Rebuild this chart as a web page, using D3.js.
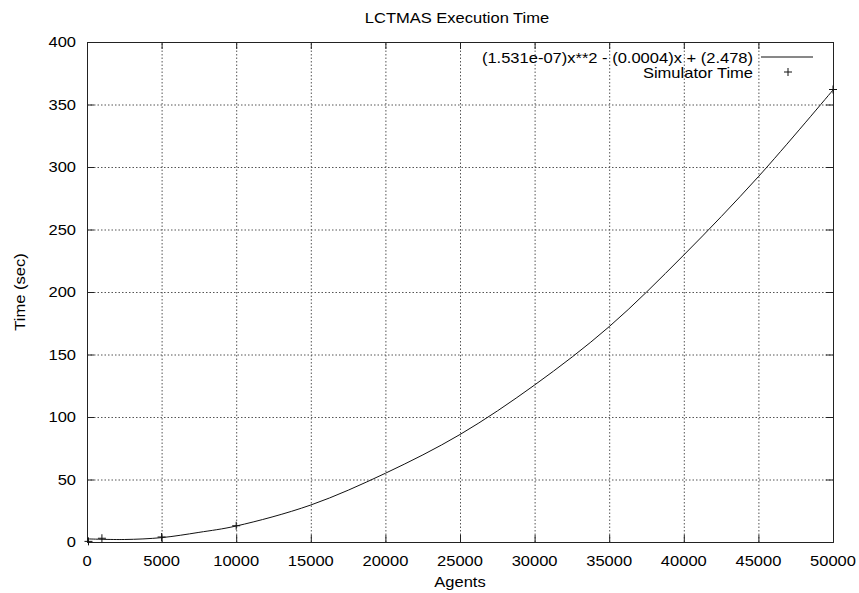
<!DOCTYPE html>
<html>
<head>
<meta charset="utf-8">
<script src="https://cdn.jsdelivr.net/npm/d3@7"></script>
<style>
body{margin:0;background:#fff;}
text{font-family:"Liberation Sans",Arial,Helvetica,sans-serif;font-size:14px;fill:#000;}
</style>
</head>
<body>
<div id="chart"></div>
<script>
// values
var agentTicks = [0,5000,10000,15000,20000,25000,30000,35000,40000,45000,50000];
var timeTicks = [0,50,100,150,200,250,300,350,400];

var fitAgents = [0,2500,5000,7500,10000,15000,20000,25000,30000,35000,40000,45000,50000];
var fitTime = [2.5,2.0,3.5,7.7,12.8,29.6,55,86,125.6,172.3,229.6,292.3,361.6];

var simAgents = [100,1000,5000,10000,50000];
var simTime = [0.5,3,4,13,362];

var fitLabel = "(1.531e-07)x**2 - (0.0004)x + (2.478)";
var simLabel = "Simulator Time";

drawChart();

function drawChart(){
	var W = 859, H = 593;
	var plotL = 87, plotR = 833, plotT = 42, plotB = 542;
	var SX = 1.18; // the png font is wide

	var svg = d3.select("#chart").append("svg")
		.attr("width", W)
		.attr("height", H);

	var x = d3.scaleLinear().domain([0,50000]).range([plotL,plotR]);
	var y = d3.scaleLinear().domain([0,400]).range([plotB,plotT]);

	function label(g, tx, ty, str, anchor, rot){
		return g.append("text")
			.attr("transform", "translate(" + tx + "," + ty + ")" + (rot ? " rotate(" + rot + ")" : "") + " scale(" + SX + ",1)")
			.attr("text-anchor", anchor || "start")
			.text(str);
	}

	// grid
	svg.append("g")
		.attr("class", "grid")
		.attr("transform", "translate(0," + plotB + ")")
		.call(d3.axisBottom(x).tickValues(agentTicks.slice(1,-1)).tickSize(-(plotB-plotT)).tickFormat(""));

	svg.append("g")
		.attr("class", "grid")
		.attr("transform", "translate(" + plotL + ",0)")
		.call(d3.axisLeft(y).tickValues(timeTicks.slice(1,-1)).tickSize(-(plotR-plotL)).tickFormat(""));

	svg.selectAll(".grid .domain").remove();
	svg.selectAll(".grid line")
		.attr("stroke", "#555")
		.attr("stroke-dasharray", "1.5,2");

	// tick marks on all four sides
	var tk = 7;
	var ticks = svg.append("g").attr("class", "ticks");
	ticks.append("g").attr("transform","translate(0," + plotB + ")")
		.call(d3.axisBottom(x).tickValues(agentTicks).tickSize(-tk).tickFormat(""));
	ticks.append("g").attr("transform","translate(0," + plotT + ")")
		.call(d3.axisTop(x).tickValues(agentTicks).tickSize(-tk).tickFormat(""));
	ticks.append("g").attr("transform","translate(" + plotL + ",0)")
		.call(d3.axisLeft(y).tickValues(timeTicks).tickSize(-tk).tickFormat(""));
	ticks.append("g").attr("transform","translate(" + plotR + ",0)")
		.call(d3.axisRight(y).tickValues(timeTicks).tickSize(-tk).tickFormat(""));
	ticks.selectAll(".domain").attr("stroke", "#222");
	ticks.selectAll(".tick line").attr("stroke", "#222");

	// tick labels
	var labels = svg.append("g");
	agentTicks.forEach(function(d){
		label(labels, x(d), 566, d, "middle");
	});
	timeTicks.forEach(function(d){
		label(labels, 76, y(d) + 5, d, "end");
	});

	// titles
	label(svg, 457, 23, "LCTMAS Execution Time", "middle");
	label(svg, 460, 587, "Agents", "middle");
	label(svg, 25, (plotT+plotB)/2, "Time (sec)", "middle", -90);

	// fitted curve
	var fit = fitAgents.map(function(d,i){ return [d, fitTime[i]]; });
	var line = d3.line()
		.x(function(d){ return x(d[0]); })
		.y(function(d){ return y(d[1]); })
		.curve(d3.curveCatmullRom);

	svg.append("path")
		.datum(fit)
		.attr("d", line)
		.attr("fill", "none")
		.attr("stroke", "#111")
		.attr("stroke-width", 1);

	// simulator points
	var ps = 4;
	function cross(g, cx, cy){
		g.append("path")
			.attr("d", "M" + (cx-ps) + "," + cy + "H" + (cx+ps) + "M" + cx + "," + (cy-ps) + "V" + (cy+ps))
			.attr("stroke", "#111")
			.attr("fill", "none");
	}
	var pts = svg.append("g");
	simAgents.forEach(function(d,i){
		cross(pts, x(d), y(simTime[i]));
	});

	// legend
	var lg = svg.append("g");
	label(lg, 753, 63, fitLabel, "end");
	label(lg, 753, 78, simLabel, "end");
	lg.append("line")
		.attr("x1", 761).attr("x2", 813)
		.attr("y1", 57).attr("y2", 57)
		.attr("stroke", "#111");
	cross(lg, 788, 72);
}
</script>
</body>
</html>
